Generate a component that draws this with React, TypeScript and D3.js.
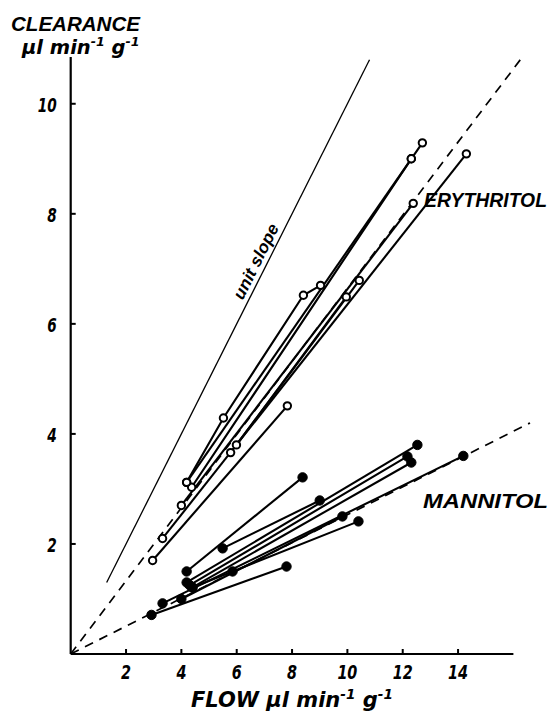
import React, { useEffect, useRef } from "react";
import * as d3 from "d3";

// flow (x) vs clearance (y), each experiment is one polyline
const erythritol: [number, number][][] = [
  [[2.96, 1.7], [7.83, 4.51]],
  [[3.32, 2.1], [14.3, 9.09]],
  [[4.0, 2.7], [12.38, 8.19]],
  [[4.19, 3.12], [5.52, 4.29], [8.41, 6.52], [9.03, 6.7]],
  [[4.37, 3.03], [12.31, 9.0], [12.71, 9.29]],
  [[5.78, 3.66], [9.96, 6.49]],
  [[5.99, 3.8], [10.43, 6.79]],
  [[4.19, 3.12], [12.31, 9.0]],
];

const mannitol: [number, number][][] = [
  [[2.92, 0.71], [7.8, 1.59]],
  [[3.32, 0.92], [14.19, 3.6]],
  [[4.0, 1.0], [9.82, 2.5]],
  [[4.19, 1.5], [8.38, 3.21]],
  [[4.19, 1.3], [12.53, 3.8]],
  [[4.4, 1.21], [5.85, 1.5], [10.4, 2.41]],
  [[4.4, 1.21], [12.31, 3.48]],
  [[5.49, 1.92], [9.0, 2.79]],
  [[4.3, 1.25], [12.17, 3.59]],
];

const xTicks = [2, 4, 6, 8, 10, 12, 14];
const yTicks = [2, 4, 6, 8, 10];

const unitSlope: [number, number][] = [[1.3, 1.3], [10.8, 10.8]];
const erythritolFit: [number, number][] = [[0, 0], [16.4, 10.9]];
const mannitolFit: [number, number][] = [[0, 0], [16.6, 4.2]];

const FONT = "'DejaVu Sans', sans-serif";
const LABEL_FONT = "'Liberation Sans', Arial, sans-serif";

const App = () => {
  const ref = useRef<SVGSVGElement>(null);

  useEffect(() => {
    const svg = d3.select(ref.current);
    svg.selectAll("*").remove();

    const x = d3.scaleLinear().domain([0, 16]).range([70.7, 513.4]);
    const y = d3.scaleLinear().domain([0, 10.85]).range([654, 57]);

    const line = d3
      .line<[number, number]>()
      .x((d) => x(d[0]))
      .y((d) => y(d[1]));

    // axes
    svg
      .append("line")
      .attr("x1", x(0))
      .attr("x2", x(0))
      .attr("y1", y(0))
      .attr("y2", y(10.85))
      .attr("stroke", "#000")
      .attr("stroke-width", 2.2);
    svg
      .append("line")
      .attr("x1", x(0))
      .attr("x2", x(16))
      .attr("y1", y(0))
      .attr("y2", y(0))
      .attr("stroke", "#000")
      .attr("stroke-width", 2.2);

    svg
      .selectAll(".xt")
      .data(xTicks)
      .enter()
      .append("line")
      .attr("x1", (d) => x(d))
      .attr("x2", (d) => x(d))
      .attr("y1", y(0))
      .attr("y2", y(0) - 5)
      .attr("stroke", "#000")
      .attr("stroke-width", 2);
    svg
      .selectAll(".xl")
      .data(xTicks)
      .enter()
      .append("text")
      .attr("x", (d) => x(d))
      .attr("y", y(0) + 25)
      .attr("text-anchor", "middle")
      .attr("font-family", FONT)
      .attr("font-weight", "bold")
      .attr("font-style", "italic")
      .attr("font-size", 20)
      .attr("textLength", (d) => String(d).length * 10)
      .attr("lengthAdjust", "spacingAndGlyphs")
      .text((d) => d);

    svg
      .selectAll(".yt")
      .data(yTicks)
      .enter()
      .append("line")
      .attr("x1", x(0))
      .attr("x2", x(0) + 5)
      .attr("y1", (d) => y(d))
      .attr("y2", (d) => y(d))
      .attr("stroke", "#000")
      .attr("stroke-width", 2);
    svg
      .selectAll(".yl")
      .data(yTicks)
      .enter()
      .append("text")
      .attr("x", x(0) - 14)
      .attr("y", (d) => y(d) + 8)
      .attr("text-anchor", "end")
      .attr("font-family", FONT)
      .attr("font-weight", "bold")
      .attr("font-style", "italic")
      .attr("font-size", 20)
      .attr("textLength", (d) => String(d).length * 9.5)
      .attr("lengthAdjust", "spacingAndGlyphs")
      .text((d) => d);

    // reference lines
    svg
      .append("path")
      .attr("d", line(unitSlope))
      .attr("stroke", "#000")
      .attr("stroke-width", 1.3)
      .attr("fill", "none");
    [erythritolFit, mannitolFit].forEach((pts) => {
      svg
        .append("path")
        .attr("d", line(pts))
        .attr("stroke", "#000")
        .attr("stroke-width", 1.7)
        .attr("stroke-dasharray", "9,7")
        .attr("fill", "none");
    });

    // experiments
    const drawSet = (sets: [number, number][][], open: boolean) => {
      sets.forEach((pts) => {
        svg
          .append("path")
          .attr("d", line(pts))
          .attr("stroke", "#000")
          .attr("stroke-width", 2.1)
          .attr("fill", "none");
      });
      sets.forEach((pts) => {
        svg
          .selectAll(null)
          .data(pts)
          .enter()
          .append("circle")
          .attr("cx", (d) => x(d[0]))
          .attr("cy", (d) => y(d[1]))
          .attr("r", open ? 3.7 : 4.7)
          .attr("fill", open ? "#fff" : "#000")
          .attr("stroke", "#000")
          .attr("stroke-width", open ? 2 : 1);
      });
    };
    drawSet(erythritol, true);
    drawSet(mannitol, false);

    // labels
    const label = (
      tx: number,
      ty: number,
      text: string,
      size: number,
      width: number,
      anchor = "start",
      rotate = 0
    ) =>
      svg
        .append("text")
        .attr("transform", `translate(${tx},${ty}) rotate(${rotate})`)
        .attr("text-anchor", anchor)
        .attr("font-family", LABEL_FONT)
        .attr("font-weight", "bold")
        .attr("font-style", "italic")
        .attr("font-size", size)
        .attr("textLength", width)
        .attr("lengthAdjust", "spacingAndGlyphs")
        .text(text);

    label(424, 207, "ERYTHRITOL", 20, 123);
    label(423, 508, "MANNITOL", 20, 125);
    label(261, 264, "unit slope", 17, 82, "middle", -63.4);

    label(11, 31, "CLEARANCE", 21, 129);

    const units = (tx: number, ty: number, pre: string, size: number) => {
      const t = svg
        .append("text")
        .attr("x", tx)
        .attr("y", ty)
        .attr("font-family", FONT)
        .attr("font-weight", "bold")
        .attr("font-style", "italic")
        .attr("font-size", size);
      t.append("tspan").text(pre + "µl min");
      t.append("tspan").attr("dy", -8).attr("font-size", size * 0.65).text("-1");
      t.append("tspan").attr("dy", 8).text(" g");
      t.append("tspan").attr("dy", -8).attr("font-size", size * 0.65).text("-1");
      return t;
    };
    units(22, 54, "", 19.5);
    units(191, 707, "FLOW ", 21);
  }, []);

  return (
    <div>
      <svg
        ref={ref}
        width={556}
        height={713}
        style={{ position: "absolute", left: 0, top: 0, background: "#fff" }}
      ></svg>
    </div>
  );
};

export default App;
